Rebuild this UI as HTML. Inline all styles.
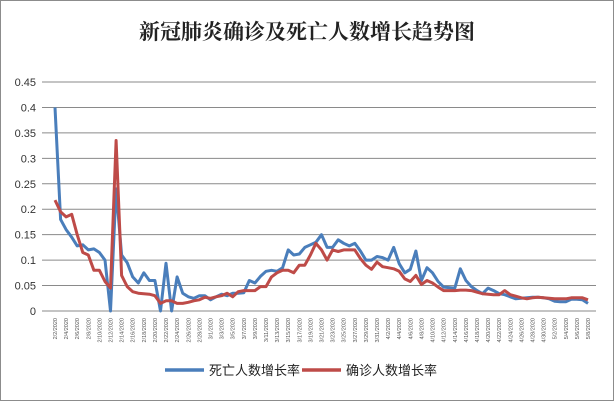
<!DOCTYPE html>
<html><head><meta charset="utf-8">
<style>
html,body{margin:0;padding:0;background:#fff;}
svg{display:block;font-family:"Liberation Sans","Noto Sans CJK SC",sans-serif;}
</style></head>
<body>
<svg id="chart" width="615" height="402" viewBox="0 0 615 402">
<rect x="0.5" y="0.5" width="613" height="400" fill="#fff" stroke="#8c8c8c"/>
<text x="307" y="39" text-anchor="middle" font-family="'Liberation Serif','Noto Serif CJK SC',serif" font-size="21" font-weight="bold" fill="#222">新冠肺炎确诊及死亡人数增长趋势图</text>
<g id="grid"></g>
<g id="yticks"></g>
<g id="xticks"></g>
<g id="series"></g>
<g>
<line x1="165" y1="370" x2="204" y2="370" stroke="#4a7ebb" stroke-width="3.5"/>
<text x="209" y="375" font-size="13" fill="#222">死亡人数增长率</text>
<line x1="302" y1="370" x2="341" y2="370" stroke="#be4b48" stroke-width="3.5"/>
<text x="346" y="375" font-size="13" fill="#222">确诊人数增长率</text>
</g>
</svg>
<script>
const startDate = [2020, 2, 2];
const yTicks = [0, 0.05, 0.1, 0.15, 0.2, 0.25, 0.3, 0.35, 0.4, 0.45];
const yTickLabels = ["0","0.05","0.1","0.15","0.2","0.25","0.3","0.35","0.4","0.45"];
const deaths = [0.40,0.18,0.16,0.145,0.128,0.13,0.12,0.122,0.115,0.10,0.0,0.24,0.11,0.095,0.067,0.055,0.075,0.06,0.06,0.0,0.094,0.0,0.067,0.035,0.028,0.025,0.03,0.03,0.022,0.028,0.033,0.03,0.035,0.035,0.036,0.06,0.055,0.068,0.078,0.08,0.078,0.085,0.12,0.11,0.112,0.125,0.13,0.135,0.15,0.125,0.125,0.14,0.133,0.128,0.133,0.118,0.10,0.10,0.107,0.105,0.10,0.125,0.093,0.075,0.082,0.118,0.06,0.085,0.075,0.058,0.047,0.046,0.045,0.083,0.06,0.048,0.04,0.034,0.045,0.04,0.034,0.032,0.028,0.024,0.025,0.026,0.027,0.027,0.026,0.024,0.019,0.018,0.018,0.023,0.023,0.022,0.015];
const confirmed = [0.218,0.195,0.185,0.19,0.15,0.115,0.11,0.08,0.08,0.058,0.045,0.335,0.07,0.048,0.038,0.035,0.034,0.033,0.03,0.015,0.02,0.02,0.015,0.015,0.017,0.02,0.022,0.027,0.025,0.028,0.03,0.035,0.028,0.038,0.04,0.04,0.04,0.048,0.048,0.067,0.075,0.08,0.08,0.075,0.09,0.09,0.11,0.133,0.12,0.10,0.12,0.117,0.12,0.12,0.12,0.103,0.09,0.082,0.096,0.087,0.085,0.083,0.078,0.063,0.058,0.07,0.052,0.06,0.055,0.047,0.04,0.04,0.04,0.041,0.041,0.04,0.037,0.034,0.033,0.032,0.032,0.04,0.032,0.029,0.026,0.024,0.026,0.027,0.026,0.025,0.024,0.024,0.024,0.026,0.026,0.026,0.022];

const NS = "http://www.w3.org/2000/svg";
const X0 = 55, X1 = 588, Y0 = 311, Y1 = 82, YMAX = 0.45;
const n = deaths.length;
function xs(i){ return X0 + (X1 - X0) * i / (n - 1); }
function ys(v){ return Y0 - (Y0 - Y1) * v / YMAX; }
function mk(tag, attrs){ const e = document.createElementNS(NS, tag); for (const k in attrs) e.setAttribute(k, attrs[k]); return e; }

const grid = document.getElementById('grid');
const yt = document.getElementById('yticks');
yTicks.forEach((v, k) => {
  const l = mk('line', {x1: 42, x2: 596, y1: ys(v), y2: ys(v), stroke: '#8a8a8a', 'stroke-width': 1});
  
  
  grid.appendChild(l);
  const t = mk('text', {x: 36, y: ys(v) + 4, 'text-anchor': 'end', 'font-size': 11, fill: '#333'});
  
  
  t.textContent = yTickLabels[k];
  yt.appendChild(t);
});

const xt = document.getElementById('xticks');
for (let i = 0; i < n; i += 2) {
  const d = new Date(startDate[0], startDate[1] - 1, startDate[2] + i);
  const lab = (d.getMonth() + 1) + '/' + d.getDate() + '/' + d.getFullYear();
  const x = xs(i) + 2;
  const t = mk('text', {x: x, y: 318, 'text-anchor': 'end', 'font-size': 5.5, fill: '#555', transform: 'rotate(-90 ' + x + ' 318)'});
  
  
  t.textContent = lab;
  xt.appendChild(t);
}

const sg = document.getElementById('series');
function drawLine(arr, color, name){
  const pts = arr.map((v, i) => xs(i).toFixed(1) + ',' + ys(v).toFixed(1)).join(' ');
  const p = mk('polyline', {points: pts, fill: 'none', stroke: color, 'stroke-width': 3, 'stroke-linejoin': 'round'});
  
  
  sg.appendChild(p);
}
drawLine(deaths, '#4a7ebb', 'deaths-growth-line');
drawLine(confirmed, '#be4b48', 'confirmed-growth-line');
</script>
</body></html>
